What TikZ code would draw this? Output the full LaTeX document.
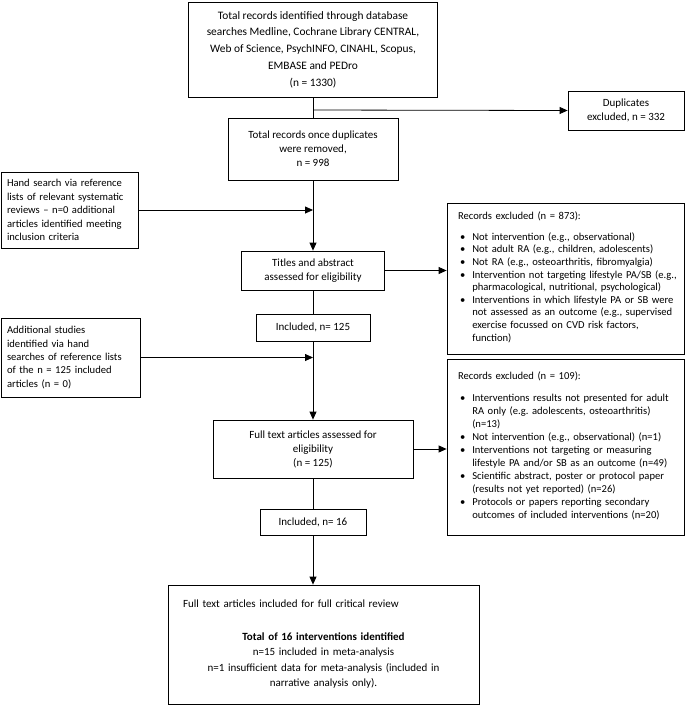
\documentclass[tikz,border=0pt]{standalone}
\usepackage{fontspec}
\setmainfont{Carlito}
\usepackage{tikz}
\usetikzlibrary{positioning,arrows.meta}
\frenchspacing
\tikzstyle{box} = [draw, line width=0.8pt, align=center, inner sep=0pt, font=\fontsize{11}{14}\selectfont]
\tikzstyle{side} = [box, align=left, inner xsep=6pt, font=\fontsize{10.6}{13.4}\selectfont]
\tikzstyle{excl} = [box, align=left, inner xsep=11pt, text width=215pt, minimum width=237pt, font=\fontsize{10.6}{12.6}\selectfont]
\tikzstyle{arr} = [line width=0.8pt, -{Triangle[length=8pt,width=7pt]}]
\tikzstyle{link} = [line width=0.8pt]
\newcommand{\bul}[1]{\begin{tabular}{@{\hspace{2pt}}l@{\hspace{7pt}}l@{}}#1\end{tabular}}

\begin{document}
\begin{tikzpicture}[x=1pt,y=-1pt]
			\useasboundingbox (0,0) rectangle (685,705);
			\node[box, minimum width=249pt, minimum height=95pt, font=\fontsize{11.4}{16.7}\selectfont] (total) at (313, 49.5) {Total records identified through database\\searches Medline, Cochrane Library CENTRAL,\\Web of Science, PsychINFO, CINAHL, Scopus,\\EMBASE and PEDro\\(n = 1330)};
			\node[box, minimum width=116pt, minimum height=39pt] (dup) at (626, 110.5) {Duplicates\\excluded, n = 332};
			\node[box, minimum width=170pt, minimum height=62pt] (removed) at (313, 149) {Total records once duplicates\\were removed,\\n = 998};
			\node[side, text width=125pt, minimum height=76pt] (hand) at (69.5, 210) {Hand search via reference\\lists of relevant systematic\\reviews -- n=0 additional\\articles identified meeting\\inclusion criteria};
			\node[box, minimum width=143pt, minimum height=39pt] (titles) at (313, 270.5) {Titles and abstract\\assessed for eligibility};
			\node[excl, minimum height=151pt] (excl1) at (565.5, 278.5) {Records excluded (n = 873):\\[9pt]\bul{%
				\textbullet & Not intervention (e.g., observational)\\
				\textbullet & Not adult RA (e.g., children, adolescents)\\
				\textbullet & Not RA (e.g., osteoarthritis, fibromyalgia)\\
				\textbullet & Intervention not targeting lifestyle PA/SB (e.g.,\\
				& pharmacological, nutritional, psychological)\\
				\textbullet & Interventions in which lifestyle PA or SB were\\
				& not assessed as an outcome (e.g., supervised\\
				& exercise focussed on CVD risk factors,\\
				& function)}};
			\node[box, minimum width=114pt, minimum height=27pt] (inc1) at (313, 327.5) {Included, n= 125};
			\node[side, text width=127pt, minimum height=79pt] (extra) at (70.5, 357.5) {Additional studies\\identified via hand\\searches of reference lists\\of the n = 125 included\\articles (n = 0)};
			\node[box, minimum width=200pt, minimum height=58pt] (full) at (313, 449) {Full text articles assessed for\\eligibility\\(n = 125)};
			\node[excl, minimum height=176pt, font=\fontsize{10.6}{13}\selectfont] (excl2) at (565.5, 447) {Records excluded (n = 109):\\[10pt]\bul{%
				\textbullet & Interventions results not presented for adult\\
				& RA only (e.g. adolescents, osteoarthritis)\\
				& (n=13)\\
				\textbullet & Not intervention (e.g., observational) (n=1)\\
				\textbullet & Interventions not targeting or measuring\\
				& lifestyle PA and/or SB as an outcome (n=49)\\
				\textbullet & Scientific abstract, poster or protocol paper\\
				& (results not yet reported) (n=26)\\
				\textbullet & Protocols or papers reporting secondary\\
				& outcomes of included interventions (n=20)}};
			\node[box, minimum width=106pt, minimum height=26pt] (inc2) at (313, 522) {Included, n= 16};
			\node[box, text width=291pt, inner xsep=10pt, minimum height=119pt, font=\fontsize{11}{15.5}\selectfont] (final) at (323.5, 644.5) {\makebox[\linewidth][l]{\hspace*{5pt}Full text articles included for full critical review}\\[17pt]\textbf{Total of 16 interventions identified}\\n=15 included in meta-analysis\\n=1 insufficient data for meta-analysis (included in\\narrative analysis only).};
			\coordinate (split) at (313, 110);
			\draw[link] (total) -- (removed);
			\draw[arr] (split) -- (dup.west);
			\draw[arr] (removed) -- (titles);
			\draw[arr] (hand) -- (hand -| titles);
			\draw[arr] (titles) -- (titles -| excl1.west);
			\draw[link] (titles) -- (inc1);
			\draw[arr] (inc1) -- (full);
			\draw[arr] (extra) -- (extra -| full);
			\draw[arr] (full) -- (full -| excl2.west);
			\draw[link] (full) -- (inc2);
			\draw[arr] (inc2.south) -- (inc2.south |- final.north);
		\end{tikzpicture}
\end{document}
